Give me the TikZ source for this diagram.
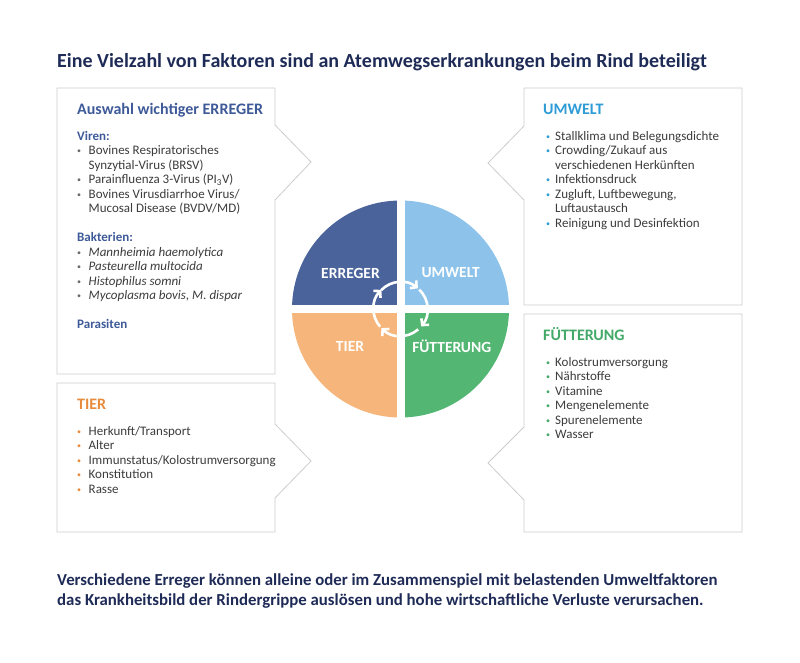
\documentclass[tikz,border=0pt]{standalone}
\usepackage{fontspec}
\setmainfont{Carlito}
\usetikzlibrary{arrows.meta}

\definecolor{navy}{HTML}{1F2B57}
\definecolor{errblue}{HTML}{4A649B}
\definecolor{errhead}{HTML}{3E5A99}
\definecolor{umwblue}{HTML}{8DC3EA}
\definecolor{umwhead}{HTML}{2F9CD7}
\definecolor{tierorange}{HTML}{F5B57B}
\definecolor{tierhead}{HTML}{E88B3D}
\definecolor{futgreen}{HTML}{53B672}
\definecolor{futhead}{HTML}{43A968}
\definecolor{txtgray}{HTML}{3C3C3C}
\definecolor{dotgray}{HTML}{6A6A6A}
\definecolor{framegray}{HTML}{CDCDCD}

\newlength{\lw}\setlength{\lw}{11.5pt}
\newlength{\rw}\setlength{\rw}{9pt}
\newcommand{\dotb}[2]{\makebox[#1][l]{\textcolor{#2}{\raisebox{0.8pt}{\fontsize{8}{8}\selectfont\textbullet}}}}

\begin{document}
\begin{tikzpicture}[
  x=1pt, y=-1pt,
  box/.style={draw=framegray, line width=0.8pt, fill=white},
  head/.style={anchor=base west, inner sep=0pt, font=\fontsize{16}{19}\selectfont\bfseries},
  body/.style={anchor=north west, inner sep=0pt, align=left, text=txtgray,
               font=\fontsize{13}{14.5}\selectfont},
  seg/.style={text=white, inner sep=0pt, font=\fontsize{15.5}{18}\selectfont\bfseries},
  cyc/.style={white, line width=2.6pt, -{Straight Barb[length=4.5pt, width=10pt]}},
]
\useasboundingbox (0,0) rectangle (800,662);

% ---- title -------------------------------------------------------------
\node[anchor=base west, inner sep=0pt, text=navy, font=\fontsize{20}{24}\selectfont\bfseries]
  (title) at (57,67) {Eine Vielzahl von Faktoren sind an Atemwegserkrankungen beim Rind beteiligt};

% ---- frames with notches pointing to the circle ------------------------
\draw[box] (57,88) -- (275,88) -- (275,125) -- (311,162) -- (275,200) -- (275,374) -- (57,374) -- cycle;
\draw[box] (57,383) -- (275,383) -- (275,424) -- (311,461) -- (275,498) -- (275,532) -- (57,532) -- cycle;
\draw[box] (524,88) -- (742,88) -- (742,305) -- (524,305) -- (524,200) -- (488,163) -- (524,126) -- cycle;
\draw[box] (524,314) -- (742,314) -- (742,532) -- (524,532) -- (524,500) -- (488,463) -- (524,427) -- cycle;

% ---- ERREGER box -------------------------------------------------------
\node[head, text=errhead] (errT) at (77,114.5) {Auswahl wichtiger ERREGER};
\node[body] (errB) at (77,129.85) {\strut\textbf{\textcolor{errhead}{Viren:}}\\
  \dotb{\lw}{dotgray}Bovines Respiratorisches\\
  \hspace*{\lw}Synzytial-Virus (BRSV)\\
  \dotb{\lw}{dotgray}Parainfluenza 3-Virus (PI\textsubscript{3}V)\\
  \dotb{\lw}{dotgray}Bovines Virusdiarrhoe Virus/\\
  \hspace*{\lw}Mucosal Disease (BVDV/MD)\\[14.5pt]
  \textbf{\textcolor{errhead}{Bakterien:}}\\
  \dotb{\lw}{dotgray}\textit{Mannheimia haemolytica}\\
  \dotb{\lw}{dotgray}\textit{Pasteurella multocida}\\
  \dotb{\lw}{dotgray}\textit{Histophilus somni}\\
  \dotb{\lw}{dotgray}\textit{Mycoplasma bovis, M. dispar}\\[14.5pt]
  \textbf{\textcolor{errhead}{Parasiten}}};

% ---- UMWELT box --------------------------------------------------------
\node[head, text=umwhead] (umwT) at (543,114.5) {UMWELT};
\node[body] (umwB) at (546,129.85) {\strut\dotb{\rw}{umwhead}Stallklima und Belegungsdichte\\
  \dotb{\rw}{umwhead}Crowding/Zukauf aus\\
  \hspace*{\rw}verschiedenen Herkünften\\
  \dotb{\rw}{umwhead}Infektionsdruck\\
  \dotb{\rw}{umwhead}Zugluft, Luftbewegung,\\
  \hspace*{\rw}Luftaustausch\\
  \dotb{\rw}{umwhead}Reinigung und Desinfektion};

% ---- TIER box ----------------------------------------------------------
\node[head, text=tierhead] (tierT) at (77,409.5) {TIER};
\node[body] (tierB) at (77,424.85) {\strut\dotb{\lw}{tierhead}Herkunft/Transport\\
  \dotb{\lw}{tierhead}Alter\\
  \dotb{\lw}{tierhead}Immunstatus/Kolostrumversorgung\\
  \dotb{\lw}{tierhead}Konstitution\\
  \dotb{\lw}{tierhead}Rasse};

% ---- FUETTERUNG box ----------------------------------------------------
\node[head, text=futhead] (futT) at (543,340.5) {FÜTTERUNG};
\node[body] (futB) at (546,355.85) {\strut\dotb{\rw}{futhead}Kolostrumversorgung\\
  \dotb{\rw}{futhead}Nährstoffe\\
  \dotb{\rw}{futhead}Vitamine\\
  \dotb{\rw}{futhead}Mengenelemente\\
  \dotb{\rw}{futhead}Spurenelemente\\
  \dotb{\rw}{futhead}Wasser};

% ---- central circle ----------------------------------------------------
\coordinate (ctr) at (400.5,309);
\fill[errblue]    (ctr) -- +(-108.5,0) arc[start angle=180, end angle=270, radius=108.5] -- cycle;
\fill[umwblue]    (ctr) -- +(0,-108.5) arc[start angle=270, end angle=360, radius=108.5] -- cycle;
\fill[futgreen]   (ctr) -- +(108.5,0)  arc[start angle=0,   end angle=90,  radius=108.5] -- cycle;
\fill[tierorange] (ctr) -- +(0,108.5)  arc[start angle=90,  end angle=180, radius=108.5] -- cycle;
\draw[white, line width=8pt] ([xshift=-112pt]ctr) -- ([xshift=112pt]ctr);
\draw[white, line width=8pt] ([yshift=-112pt]ctr) -- ([yshift=112pt]ctr);

% cycle arrows
\foreach \a in {225,310,40,135}
  \draw[cyc] (ctr) ++(\a-86:27) arc[start angle=\a-86, end angle=\a, radius=27];

\node[seg] (segE) at (350.5,273) {ERREGER};
\node[seg] (segU) at (450.7,273) {UMWELT};
\node[seg] (segT) at (350,346.7) {TIER};
\node[seg] (segF) at (451.7,346.7) {FÜTTERUNG};

% ---- closing statement -------------------------------------------------
\node[anchor=north west, inner sep=0pt, align=left, text=navy, font=\fontsize{16.8}{20}\selectfont\bfseries]
  (note) at (57,571.5) {\strut Verschiedene Erreger können alleine oder im Zusammenspiel mit belastenden Umweltfaktoren\\
  das Krankheitsbild der Rindergrippe auslösen und hohe wirtschaftliche Verluste verursachen.};

\end{tikzpicture}
\end{document}
